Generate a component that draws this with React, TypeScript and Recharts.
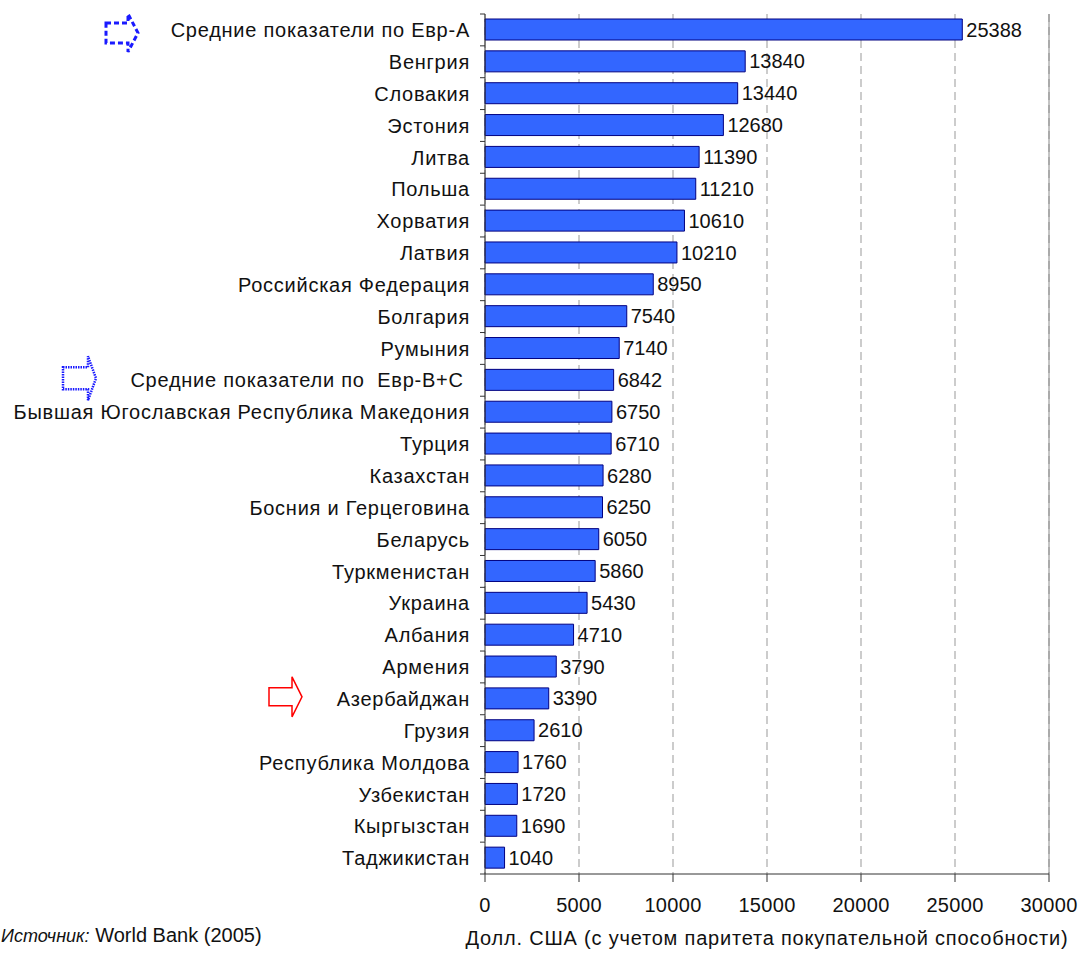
import React from "react"
import { Bar, BarChart, CartesianGrid, LabelList, ReferenceLine, XAxis, YAxis } from "recharts"

const categories = [
  "Средние показатели по Евр-А",
  "Венгрия",
  "Словакия",
  "Эстония",
  "Литва",
  "Польша",
  "Хорватия",
  "Латвия",
  "Российская Федерация",
  "Болгария",
  "Румыния",
  "Средние показатели по  Евр-B+C ",
  "Бывшая Югославская Республика Македония",
  "Турция",
  "Казахстан",
  "Босния и Герцеговина",
  "Беларусь",
  "Туркменистан",
  "Украина",
  "Албания",
  "Армения",
  "Азербайджан",
  "Грузия",
  "Республика Молдова",
  "Узбекистан",
  "Кыргызстан",
  "Таджикистан",
]

const gniValues = [
  25388, 13840, 13440, 12680, 11390, 11210, 10610, 10210, 8950, 7540, 7140, 6842, 6750, 6710, 6280, 6250,
  6050, 5860, 5430, 4710, 3790, 3390, 2610, 1760, 1720, 1690, 1040,
]

const xTicks = [0, 5000, 10000, 15000, 20000, 25000, 30000]

// which rows get an arrow next to the label
const arrowRows: Record<string, "dashed" | "dotted" | "red"> = {
  "Средние показатели по Евр-А": "dashed",
  "Средние показатели по  Евр-B+C ": "dotted",
  "Азербайджан": "red",
}

const data = categories.map((name, i) => ({ name, value: gniValues[i] }))

const W = 1079
const H = 954
const TOP = 14
const AXIS_X = 485
const X_AXIS_H = 80
const BAND = (H - X_AXIS_H - TOP) / categories.length
const FONT = "'Liberation Sans', Arial, sans-serif"

function arrowPath(x0: number, cy: number, bw: number, bh: number, hh: number, hw: number) {
  return `M${x0},${cy - bh / 2} L${x0 + bw},${cy - bh / 2} L${x0 + bw},${cy - hh / 2} L${x0 + bw + hw},${cy} L${x0 + bw},${cy + hh / 2} L${x0 + bw},${cy + bh / 2} L${x0},${cy + bh / 2} Z`
}

function CategoryTick(props: any) {
  const { y, payload, index } = props
  const kind = arrowRows[payload.value]
  return (
    <g>
      {index === 0 && <line x1={AXIS_X - 5} x2={AXIS_X} y1={y - BAND / 2} y2={y - BAND / 2} stroke="#333" />}
      <line x1={AXIS_X - 5} x2={AXIS_X} y1={y + BAND / 2} y2={y + BAND / 2} stroke="#333" />
      <text
        x={AXIS_X - 15}
        y={y}
        dy="0.36em"
        textAnchor="end"
        fontSize={20}
        fill="#111"
        style={{ whiteSpace: "pre", letterSpacing: 0.75 }}
      >
        {payload.value}
      </text>
      {kind === "dashed" && (
        <path d={arrowPath(106, y + 3, 22, 20, 38, 10)} fill="none" stroke="#1a1aff" strokeWidth={3} strokeDasharray="5 3" />
      )}
      {kind === "dotted" && (
        <path d={arrowPath(63, y - 2, 25, 22, 44, 8)} fill="none" stroke="#1a1aff" strokeWidth={2.5} strokeDasharray="1.5 1" />
      )}
      {kind === "red" && (
        <path d={arrowPath(269, y - 2, 23, 18, 40, 10)} fill="#fff" stroke="#ff0000" strokeWidth={1.5} />
      )}
    </g>
  )
}

function ValueTick(props: any) {
  const { x, y, payload } = props
  return (
    <text x={x} y={y} dy="0.71em" textAnchor="middle" fontSize={20} fill="#111" style={{ letterSpacing: 0.3 }}>
      {payload.value}
    </text>
  )
}

export default function App() {
  return (
    <div style={{ position: "absolute", left: 0, top: 0, width: W, height: H, background: "#fff", fontFamily: FONT }}>
      <BarChart
        width={W}
        height={H}
        data={data}
        layout="vertical"
        margin={{ top: TOP, right: 30, bottom: 0, left: 0 }}
        style={{ fontFamily: FONT }}
      >
        <CartesianGrid horizontal={false} stroke="#999" strokeDasharray="8 5" />
        <XAxis
          type="number"
          domain={[0, 30000]}
          ticks={xTicks}
          height={X_AXIS_H}
          stroke="#333"
          tickSize={8}
          tickMargin={16}
          tick={<ValueTick />}
          label={{
            value: "Долл. США (с учетом паритета покупательной способности)",
            position: "insideBottom",
            offset: 9,
            fontSize: 20,
            fill: "#111",
            style: { letterSpacing: 0.8 },
          }}
        />
        <XAxis xAxisId="top" type="number" orientation="top" domain={[0, 30000]} height={0} tick={false} tickLine={false} stroke="#888" />
        <YAxis type="category" dataKey="name" width={AXIS_X} stroke="#333" tickLine={false} tick={<CategoryTick />} interval={0} />
        <ReferenceLine x={30000} stroke="#888" />
        <Bar dataKey="value" fill="#3366ff" stroke="#000080" strokeWidth={1} barSize={21} isAnimationActive={false}>
          <LabelList dataKey="value" position="right" offset={4} fontSize={20} fill="#111" />
        </Bar>
      </BarChart>
      <div style={{ position: "absolute", left: 1, top: 924, fontSize: 20, color: "#111", whiteSpace: "nowrap" }}>
        <span style={{ fontStyle: "italic", fontSize: 18 }}>Источник:</span> World Bank (2005)
      </div>
    </div>
  )
}
